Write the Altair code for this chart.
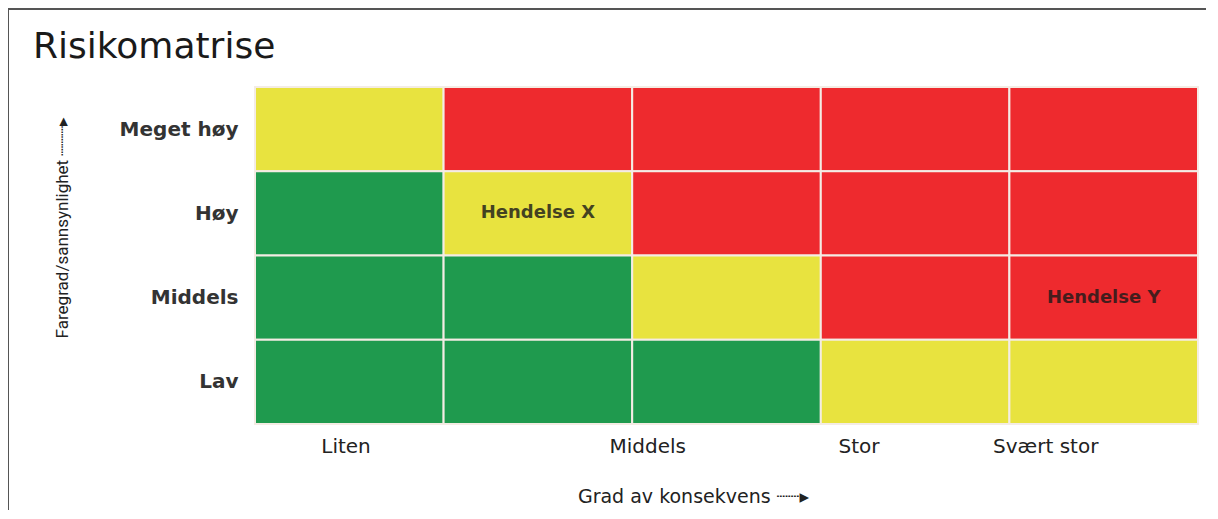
import altair as alt
import pandas as pd

# ---- data ----
chart_title = "Risikomatrise"
row_labels = ["Meget høy", "Høy", "Middels", "Lav"]          # top to bottom
n_cols = 5
risk_grid = [
    ["Gul",   "Rød",   "Rød",   "Rød", "Rød"],   # Meget høy
    ["Grønn", "Gul",   "Rød",   "Rød", "Rød"],   # Høy
    ["Grønn", "Grønn", "Gul",   "Rød", "Rød"],   # Middels
    ["Grønn", "Grønn", "Grønn", "Gul", "Gul"],   # Lav
]
x_tick_values = [0.48, 2.08, 3.2, 4.19]
x_tick_labels = ["Liten", "Middels", "Stor", "Svært stor"]
y_tick_values = [0.5, 1.5, 2.5, 3.5]
y_tick_labels = ["Lav", "Middels", "Høy", "Meget høy"]
events = ["Hendelse X", "Hendelse Y"]
event_col = [1, 4]
event_row = ["Høy", "Middels"]

levels = ["Grønn", "Gul", "Rød"]
level_colors = ["#1f9a4e", "#e8e33f", "#ee2a2e"]

rows = []
for r, lab in enumerate(row_labels):
    ri = len(row_labels) - 1 - r
    for c in range(n_cols):
        rows.append({"col": c, "row": ri, "level": risk_grid[r][c]})
cells = pd.DataFrame(rows)

ev = pd.DataFrame({
    "event": events,
    "col": event_col,
    "row": [len(row_labels) - 1 - row_labels.index(r) for r in event_row],
})

def label_expr(vals, labs):
    expr = "''"
    for v, l in reversed(list(zip(vals, labs))):
        expr = f"datum.value == {v} ? '{l}' : ({expr})"
    return expr

xscale = alt.Scale(domain=[0, n_cols], nice=False, zero=False)
yscale = alt.Scale(domain=[0, len(row_labels)], nice=False, zero=False)

base_font = "DejaVu Sans"

rects = alt.Chart(cells).transform_calculate(
    col2="datum.col + 1", row2="datum.row + 1"
).mark_rect(stroke="#f4ece4", strokeWidth=2).encode(
    x=alt.X("col:Q", scale=xscale, axis=alt.Axis(
        values=x_tick_values, labelExpr=label_expr(x_tick_values, x_tick_labels),
        ticks=False, domain=False, grid=False, labelFontSize=20, labelFont=base_font,
        labelColor="#222", labelPadding=12, labelFlush=False,
        title="Grad av konsekvens  ┈┈▸", titleFont=base_font, titleFontSize=19,
        titleFontWeight="normal", titleColor="#222", titleX=438, titleY=72,
        titleBaseline="middle")),
    x2="col2:Q",
    y=alt.Y("row:Q", scale=yscale, axis=alt.Axis(
        values=y_tick_values, labelExpr=label_expr(y_tick_values, y_tick_labels),
        ticks=False, domain=False, grid=False, labelFontSize=20, labelFont=base_font,
        labelFontWeight="bold", labelColor="#333", labelPadding=17,
        title="Faregrad/sannsynlighet  ┈┈┈▸", titleFont="Roboto", titleFontSize=17,
        titleFontWeight="normal", titleColor="#222", titleX=-193, titleY=140,
        titleAngle=-90, titleAlign="center", titleBaseline="middle")),
    y2="row2:Q",
    color=alt.Color("level:N", scale=alt.Scale(domain=levels, range=level_colors), legend=None),
)

texts = alt.Chart(ev).transform_calculate(
    cx="datum.col + 0.5", cy="datum.row + 0.5"
).mark_text(font=base_font, fontSize=18, fontWeight="bold", color="#1a1a1a", opacity=0.8).encode(
    x=alt.X("cx:Q", scale=xscale),
    y=alt.Y("cy:Q", scale=yscale),
    text="event:N",
)

title_mark = alt.Chart().mark_text(
    font=base_font, fontSize=36, color="#1a1a1a", align="left", baseline="alphabetic"
).encode(x=alt.value(-222), y=alt.value(-29), text=alt.value(chart_title))

frame_top = alt.Chart().mark_rule(color="#555", strokeWidth=2).encode(
    x=alt.value(-247), x2=alt.value(960), y=alt.value(-78))
frame_left = alt.Chart().mark_rule(color="#555", strokeWidth=2).encode(
    x=alt.value(-247), y=alt.value(-79), y2=alt.value(430))

chart = alt.layer(rects, texts, title_mark, frame_top, frame_left).properties(
    width=943, height=337,
    autosize=alt.AutoSizeParams(type="none"),
    padding={"left": 247, "top": 79, "right": 8, "bottom": 86},
).configure_view(stroke=None).configure(background="#ffffff")

chart.save("out.html", embed_options={"renderer": "svg", "actions": False})
